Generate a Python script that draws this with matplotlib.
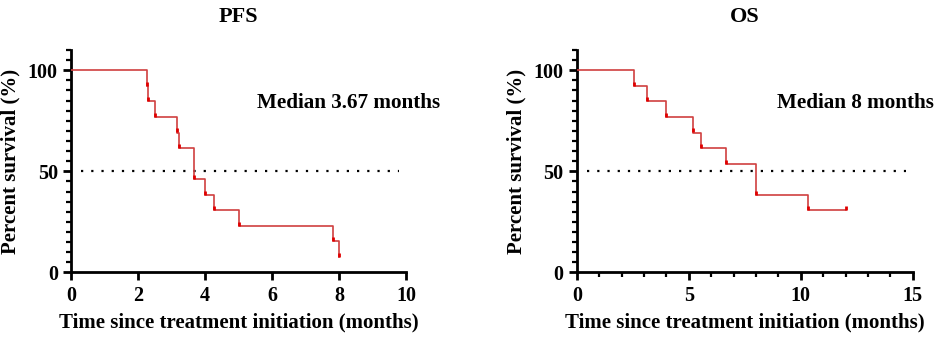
import matplotlib
matplotlib.use('Agg')
import matplotlib.pyplot as plt
from matplotlib.ticker import MultipleLocator

plt.rcParams['font.family'] = ['Liberation Serif', 'DejaVu Serif']
plt.rcParams['font.weight'] = 'bold'

# PFS step data (months, percent survival)
pfs_time = [0, 2.26, 2.31, 2.51, 3.16, 3.23, 3.67, 4.00, 4.26, 5.01, 7.83, 8.01]
pfs_surv = [100, 92.3, 84.6, 76.9, 69.2, 61.5, 46.2, 38.5, 30.8, 23.1, 15.4, 7.7]

# OS step data
os_time = [0, 2.54, 3.12, 3.99, 5.18, 5.54, 6.65, 7.99, 10.31, 12.02]
os_surv = [100, 92.3, 84.6, 76.9, 69.2, 61.5, 53.8, 38.5, 30.8, 30.8]

titles = ['PFS', 'OS']
medians = ['Median 3.67 months', 'Median 8 months']
xmax = [10, 15]
xmajor = [2, 5]
xminor = [None, 1]
median_x = [0.555, 0.595]

line_col = '#d04040'
mark_col = '#e00000'

fig = plt.figure(figsize=(9.41, 3.38), dpi=100)
ax1 = fig.add_axes([0.0755, 0.194, 0.356, 0.658])
ax2 = fig.add_axes([0.613, 0.194, 0.357, 0.658])

data = [(pfs_time, pfs_surv), (os_time, os_surv)]
for i, ax in enumerate([ax1, ax2]):
    t, s = data[i]
    ax.step(t, s, where='post', color=line_col, lw=1.2, zorder=3)
    ax.plot(t[1:], [v + 1.0 for v in s[1:]], ls='none', marker='|',
            ms=3.5, mew=2.0, color=mark_col, zorder=4)
    ax.axhline(50, xmin=0.03, xmax=0.98, color='black', ls=(0, (1, 3.6)), lw=1.6)
    ax.set_xlim(0, xmax[i])
    ax.set_ylim(0, 110)
    ax.xaxis.set_major_locator(MultipleLocator(xmajor[i]))
    if xminor[i]:
        ax.xaxis.set_minor_locator(MultipleLocator(xminor[i]))
    ax.set_yticks([0, 50, 100])
    ax.yaxis.set_minor_locator(MultipleLocator(5))
    for side in ['top', 'right']:
        ax.spines[side].set_visible(False)
    for side in ['left', 'bottom']:
        ax.spines[side].set_linewidth(2)
    ax.tick_params(which='major', length=6, width=2, labelsize=14.5, pad=3.5)
    ax.tick_params(which='minor', length=3.5, width=1.6)
    ax.set_xlabel('Time since treatment initiation (months)', fontsize=15,
                  fontweight='bold', labelpad=5)
    ax.set_ylabel('Percent survival (%)', fontsize=15, fontweight='bold', labelpad=5)
    ax.set_title(titles[i], fontsize=16, fontweight='bold', pad=20)
    ax.text(median_x[i], 84, medians[i], transform=ax.get_yaxis_transform(),
            ha='left', va='center', fontsize=15.2, fontweight='bold', clip_on=False)

fig.savefig('out.png', dpi=100)
